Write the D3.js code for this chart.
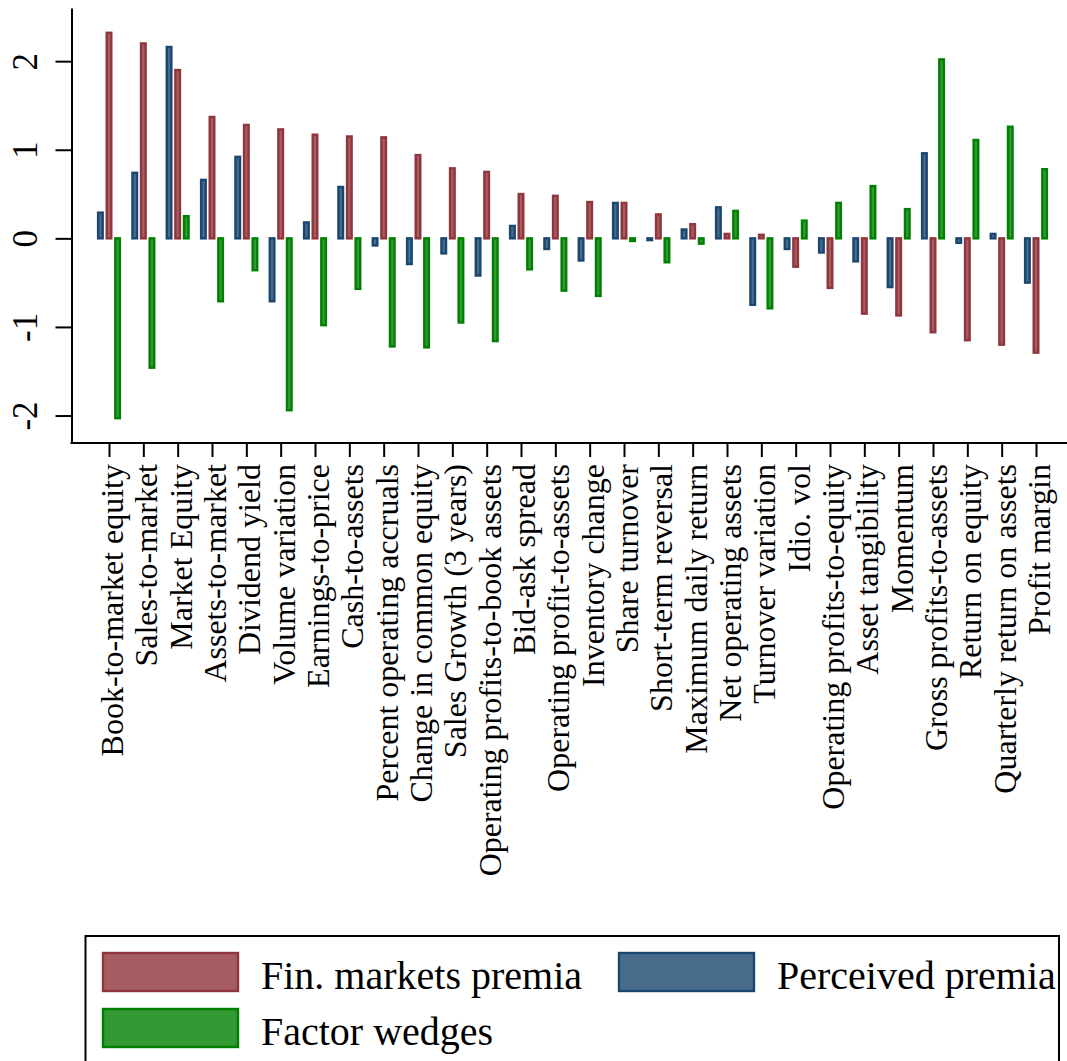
<!DOCTYPE html>
<html>
<head>
<meta charset="utf-8">
<script src="https://cdn.jsdelivr.net/npm/d3@7"></script>
<style>
  html, body { margin: 0; padding: 0; background: #fff; }
  svg { display: block; }
  text { font-family: "Liberation Serif", "Times New Roman", serif; fill: #000; }
</style>
</head>
<body>
<svg id="chart" width="1067" height="1061"></svg>
<script>
const categories = [
  "Book-to-market equity", "Sales-to-market", "Market Equity", "Assets-to-market",
  "Dividend yield", "Volume variation", "Earnings-to-price", "Cash-to-assets",
  "Percent operating accruals", "Change in common equity", "Sales Growth (3 years)",
  "Operating profits-to-book assets", "Bid-ask spread", "Operating profit-to-assets",
  "Inventory change", "Share turnover", "Short-term reversal", "Maximum daily return",
  "Net operating assets", "Turnover variation", "Idio. vol", "Operating profits-to-equity",
  "Asset tangibility", "Momentum", "Gross profits-to-assets", "Return on equity",
  "Quarterly return on assets", "Profit margin"
];
const perceivedPremia = [0.29, 0.74, 2.16, 0.66, 0.92, -0.71, 0.18, 0.58, -0.08, -0.29, -0.17, -0.42, 0.14, -0.12,
  -0.25, 0.40, -0.02, 0.10, 0.35, -0.75, -0.12, -0.16, -0.26, -0.55, 0.96, -0.05, 0.05, -0.50];
const finMarketsPremia = [2.32, 2.20, 1.90, 1.37, 1.28, 1.23, 1.17, 1.15, 1.14, 0.94, 0.79, 0.75, 0.50, 0.48,
  0.41, 0.40, 0.27, 0.16, 0.05, 0.04, -0.32, -0.56, -0.85, -0.87, -1.06, -1.15, -1.20, -1.29];
const factorWedges = [-2.03, -1.46, 0.25, -0.71, -0.36, -1.94, -0.98, -0.57, -1.22, -1.23, -0.95, -1.16, -0.35, -0.59,
  -0.65, -0.03, -0.27, -0.06, 0.31, -0.79, 0.20, 0.40, 0.59, 0.33, 2.02, 1.11, 1.26, 0.78];
const yTickValues = [-2, -1, 0, 1, 2];
const seriesNames = ["Perceived premia", "Fin. markets premia", "Factor wedges"];

const svg = d3.select("#chart");

const series = [
  { name: seriesNames[0], values: perceivedPremia, fill: "#486c8c", stroke: "#1a476f", off: -8.6 },
  { name: seriesNames[1], values: finMarketsPremia, fill: "#a65d62", stroke: "#90353b", off: 0 },
  { name: seriesNames[2], values: factorWedges, fill: "#339933", stroke: "#008000", off: 8.6 }
];

const x = d3.scalePoint().domain(categories).range([109, 1036]);
const y = d3.scaleLinear().domain([-2.31, 2.6]).range([443, 8]);

// bars
const barW = 4.6;
series.forEach(s => {
  svg.append("g").selectAll("rect")
    .data(s.values.map((v, i) => ({ v, c: categories[i] })))
    .join("rect")
    .attr("x", d => x(d.c) + s.off - barW / 2)
    .attr("width", barW)
    .attr("y", d => y(Math.max(0, d.v)))
    .attr("height", d => Math.abs(y(d.v) - y(0)))
    .attr("fill", s.fill)
    .attr("stroke", s.stroke)
    .attr("stroke-width", 2.4);
});

// y axis
const yAxis = svg.append("g")
  .attr("transform", "translate(71.5,0)")
  .call(d3.axisLeft(y).tickValues(yTickValues).tickSize(16).tickSizeOuter(0).tickFormat(d => String(d)));
yAxis.select(".domain").attr("stroke", "#000").attr("stroke-width", 2);
yAxis.selectAll(".tick line").attr("stroke", "#000").attr("stroke-width", 2);
yAxis.selectAll(".tick text")
  .attr("x", null).attr("dy", null)
  .attr("transform", "translate(-35,0) rotate(-90)")
  .attr("text-anchor", "middle")
  .attr("font-size", 35)
  .style("font-family", "'Liberation Serif', serif");

// x axis
const xAxis = svg.append("g")
  .attr("transform", "translate(0,443)")
  .call(d3.axisBottom(x).tickSize(14).tickSizeOuter(0));
xAxis.select(".domain").remove();
xAxis.append("line").attr("x1", 70.5).attr("x2", 1067).attr("y1", 0).attr("y2", 0)
  .attr("stroke", "#000").attr("stroke-width", 2);
xAxis.selectAll(".tick line").attr("stroke", "#000").attr("stroke-width", 2);
xAxis.selectAll(".tick text")
  .attr("y", null).attr("dy", null)
  .attr("transform", "translate(13.5,21) rotate(-90)")
  .attr("text-anchor", "end")
  .attr("font-size", 32)
  .style("font-family", "'Liberation Serif', serif");

// legend
const lg = svg.append("g");
lg.append("rect").attr("x", 85.5).attr("y", 936).attr("width", 973.5).attr("height", 140)
  .attr("fill", "none").attr("stroke", "#000").attr("stroke-width", 2);
const legendItems = [
  { s: series[1], sx: 103, sy: 953, tx: 261, ty: 989 },
  { s: series[0], sx: 619, sy: 953, tx: 777, ty: 989 },
  { s: series[2], sx: 103, sy: 1009, tx: 261, ty: 1045 }
];
legendItems.forEach(it => {
  lg.append("rect").attr("x", it.sx).attr("y", it.sy).attr("width", 135).attr("height", 38)
    .attr("fill", it.s.fill).attr("stroke", it.s.stroke).attr("stroke-width", 2.4);
  lg.append("text").attr("x", it.tx).attr("y", it.ty).attr("font-size", 40).text(it.s.name);
});
</script>
</body>
</html>
